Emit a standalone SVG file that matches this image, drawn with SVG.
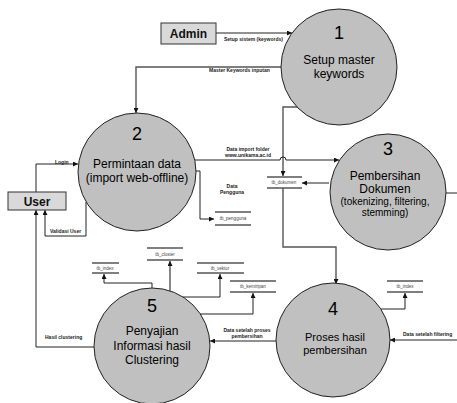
<svg xmlns="http://www.w3.org/2000/svg" width="457" height="403" viewBox="0 0 457 403">
<style>
.proc{fill:#c0c0c0;stroke:#222;stroke-width:1}
.ent{fill:#d9d9d9;stroke:#333;stroke-width:1}
.st{stroke:#555;stroke-width:1.3;fill:none}
.ln{fill:none;stroke:#222;stroke-width:1}
.lg{fill:none;stroke:#555;stroke-width:1.4}
.num{font-family:"Liberation Sans",Arial,sans-serif;font-size:18px;fill:#000;text-anchor:middle}
.pt{font-family:"Liberation Sans",Arial,sans-serif;font-size:12px;fill:#000;text-anchor:middle}
.et{font-family:"Liberation Sans",Arial,sans-serif;font-size:12px;font-weight:bold;fill:#111;text-anchor:middle}
.lb{font-family:"Liberation Sans",Arial,sans-serif;font-size:5px;font-weight:bold;fill:#222}
.sl{font-family:"Liberation Sans",Arial,sans-serif;font-size:4.5px;fill:#444;text-anchor:middle}
</style>
<defs>
<marker id="ar" viewBox="0 0 10 10" refX="10" refY="5" markerWidth="5" markerHeight="5" orient="auto" markerUnits="userSpaceOnUse">
<path d="M0,0 L10,5 L0,10 z" fill="#111"/>
</marker>
</defs>
<g id="connectors">
<path class="ln" d="M216,33 H292" marker-end="url(#ar)"/>
<path class="lg" d="M281,67 H136 V113" marker-end="url(#ar)"/>
<path class="lg" d="M297,107 H283 V176" marker-end="url(#ar)"/>
<path class="ln" d="M195,160 H280 A3,3 0 0 1 286,160 H339" marker-end="url(#ar)"/>
<path class="ln" d="M329,183 H302" marker-end="url(#ar)"/>
<path class="lg" d="M283,188 V247 H336 V284" marker-end="url(#ar)"/>
<path class="ln" d="M195,171 H200 V219 H214" marker-end="url(#ar)"/>
<path class="ln" d="M36,192 V164 H78" marker-end="url(#ar)"/>
<path class="ln" d="M86,202 V236 H45 V210" marker-end="url(#ar)"/>
<path class="ln" d="M94,347 H36 V210" marker-end="url(#ar)"/>
<path class="ln" d="M152,288 V283 H104 V274" marker-end="url(#ar)"/>
<path class="lg" d="M170,291 V261" marker-end="url(#ar)"/>
<path class="ln" d="M183,297 H220 V274" marker-end="url(#ar)"/>
<path class="ln" d="M200,314 H253 V293" marker-end="url(#ar)"/>
<path class="ln" d="M276,341 H210" marker-end="url(#ar)"/>
<path class="ln" d="M381,309 H405 V293" marker-end="url(#ar)"/>
<path class="ln" d="M446,193 H457"/>
<path class="ln" d="M457,340 H390" marker-end="url(#ar)"/>
<text class="lb" x="224" y="41">Setup sistem (keywords)</text>
<text class="lb" x="209" y="72">Master Keywords inputan</text>
<text class="lb" x="248" y="151" text-anchor="middle">Data import folder</text>
<text class="lb" x="248" y="157" text-anchor="middle">www.unikama.ac.id</text>
<text class="lb" x="232" y="188" text-anchor="middle">Data</text>
<text class="lb" x="232" y="194" text-anchor="middle">Pengguna</text>
<text class="lb" x="55" y="164">Login</text>
<text class="lb" x="50" y="233">Validasi User</text>
<text class="lb" x="45" y="339">Hasil clustering</text>
<text class="lb" x="247" y="332" text-anchor="middle">Data setelah proses</text>
<text class="lb" x="247" y="338" text-anchor="middle">pembersihan</text>
<text class="lb" x="403" y="336">Data setelah filtering</text>
</g>
<g id="admin">
<rect class="ent" x="161" y="23" width="55" height="21"/>
<text class="et" x="188.5" y="38">Admin</text>
</g>
<g id="user">
<rect class="ent" x="8" y="192" width="58" height="18"/>
<text class="et" x="37" y="205.5">User</text>
</g>
<g id="p1">
<circle class="proc" cx="339" cy="67" r="58"/>
<text class="num" x="339" y="39">1</text>
<text class="pt" x="339" y="64">Setup master</text>
<text class="pt" x="339" y="78">keywords</text>
</g>
<g id="p2">
<circle class="proc" cx="137" cy="172" r="59"/>
<text class="num" x="137" y="140">2</text>
<text class="pt" x="137" y="168">Permintaan data</text>
<text class="pt" x="137" y="182">(import web-offline)</text>
</g>
<g id="p3">
<circle class="proc" cx="388" cy="192" r="58"/>
<text class="num" x="388" y="155">3</text>
<text class="pt" x="385" y="180">Pembersihan</text>
<text class="pt" x="385" y="193">Dokumen</text>
<text class="pt" x="385" y="204.5" style="font-size:10px">(tokenizing, filtering,</text>
<text class="pt" x="385" y="216" style="font-size:10px">stemming)</text>
</g>
<g id="p4">
<circle class="proc" cx="333" cy="340" r="57"/>
<text class="num" x="333" y="315">4</text>
<text class="pt" x="335" y="341" style="font-size:11px">Proses hasil</text>
<text class="pt" x="335" y="354" style="font-size:11px">pembersihan</text>
</g>
<g id="p5">
<circle class="proc" cx="152" cy="346" r="58"/>
<text class="num" x="152" y="312">5</text>
<text class="pt" x="152" y="335">Penyajian</text>
<text class="pt" x="152" y="350">Informasi hasil</text>
<text class="pt" x="152" y="364">Clustering</text>
</g>
<g id="tb_dokumen">
<path class="st" d="M267,177 H302 M267,188 H302"/>
<text class="sl" x="284" y="184">tb_dokumen</text>
</g>
<g id="tb_pengguna">
<path class="st" d="M215,212 H251 M215,225 H251"/>
<text class="sl" x="233" y="220">tb_pengguna</text>
</g>
<g id="tb_index_1">
<path class="st" d="M92,263 H119 M92,273 H119"/>
<text class="sl" x="105" y="270">tb_index</text>
</g>
<g id="tb_cluster">
<path class="st" d="M147,248 H183 M147,260 H183"/>
<text class="sl" x="165" y="256">tb_cluster</text>
</g>
<g id="tb_vektor">
<path class="st" d="M197,263 H244 M197,273 H244"/>
<text class="sl" x="220" y="270">tb_vektor</text>
</g>
<g id="tb_kemiripan">
<path class="st" d="M230,281 H276 M230,292 H276"/>
<text class="sl" x="253" y="288">tb_kemiripan</text>
</g>
<g id="tb_index_2">
<path class="st" d="M387,281 H423 M387,292 H423"/>
<text class="sl" x="405" y="288">tb_index</text>
</g>
</svg>
